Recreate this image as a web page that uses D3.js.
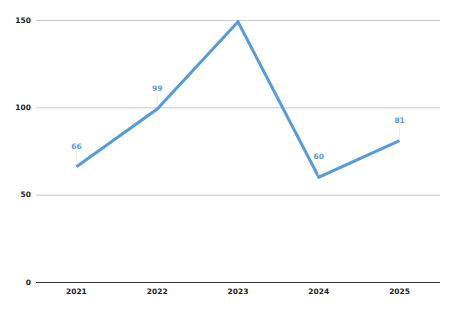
<!DOCTYPE html>
<html>
<head>
<meta charset="utf-8">
<script src="https://cdn.jsdelivr.net/npm/d3@7"></script>
<style>
  body { margin: 0; background: #fff; }
  text { font-family: "DejaVu Sans", sans-serif; }
</style>
</head>
<body>
<div id="chart"></div>
<script>
// data
const years = ["2021", "2022", "2023", "2024", "2025"];
const values = [66, 99, 149, 60, 81];
const yTicks = [0, 50, 100, 150];

const width = 456, height = 313;
const margin = {top: 20, right: 16, bottom: 31, left: 36};

const svg = d3.select("#chart")
  .append("svg")
    .attr("width", width)
    .attr("height", height);

const x = d3.scaleBand()
  .domain(years)
  .range([margin.left, width - margin.right]);

const y = d3.scaleLinear()
  .domain([0, 150])
  .range([height - margin.bottom, margin.top]);

// gridlines
svg.append("g")
  .selectAll("line")
  .data(yTicks.filter(d => d > 0))
  .join("line")
    .attr("x1", margin.left)
    .attr("x2", width - margin.right)
    .attr("y1", d => y(d) + 0.5)
    .attr("y2", d => y(d) + 0.5)
    .attr("stroke", "#c8c8c8")
    .attr("stroke-width", 1);

// y axis labels
svg.append("g")
  .selectAll("text")
  .data(yTicks)
  .join("text")
    .attr("x", margin.left - 5)
    .attr("y", d => y(d))
    .attr("dy", "0.35em")
    .attr("text-anchor", "end")
    .attr("font-size", 7.5)
    .attr("font-weight", "bold")
    .attr("fill", "#222")
    .text(d => d);

// baseline
svg.append("line")
  .attr("x1", margin.left)
  .attr("x2", width - margin.right)
  .attr("y1", y(0) + 0.5)
  .attr("y2", y(0) + 0.5)
  .attr("stroke", "#333")
  .attr("stroke-width", 1);

// x labels
svg.append("g")
  .selectAll("text")
  .data(years)
  .join("text")
    .attr("x", d => x(d) + x.bandwidth() / 2)
    .attr("y", y(0) + 12)
    .attr("text-anchor", "middle")
    .attr("font-size", 7.5)
    .attr("font-weight", "bold")
    .attr("fill", "#222")
    .text(d => d);

const pts = years.map((d, i) => ({year: d, value: values[i]}));

// line
const line = d3.line()
  .x(d => x(d.year) + x.bandwidth() / 2)
  .y(d => y(d.value));

svg.append("path")
  .datum(pts)
  .attr("d", line)
  .attr("fill", "none")
  .attr("stroke", "#5b9bd5")
  .attr("stroke-width", 3)
  .attr("stroke-linejoin", "miter");

// data labels (the top one falls outside the plot and isn't shown)
const shown = pts.filter(d => y(d.value) - 20 > margin.top);

svg.append("g")
  .selectAll("line")
  .data(shown)
  .join("line")
    .attr("x1", d => x(d.year) + x.bandwidth() / 2)
    .attr("x2", d => x(d.year) + x.bandwidth() / 2)
    .attr("y1", d => y(d.value) - 2)
    .attr("y2", d => y(d.value) - 16)
    .attr("stroke", "#ececec")
    .attr("stroke-width", 1);

svg.append("g")
  .selectAll("text")
  .data(shown)
  .join("text")
    .attr("x", d => x(d.year) + x.bandwidth() / 2)
    .attr("y", d => y(d.value) - 18)
    .attr("text-anchor", "middle")
    .attr("font-size", 7.5)
    .attr("font-weight", "bold")
    .attr("fill", "#5b9bd5")
    .text(d => d.value);
</script>
</body>
</html>
